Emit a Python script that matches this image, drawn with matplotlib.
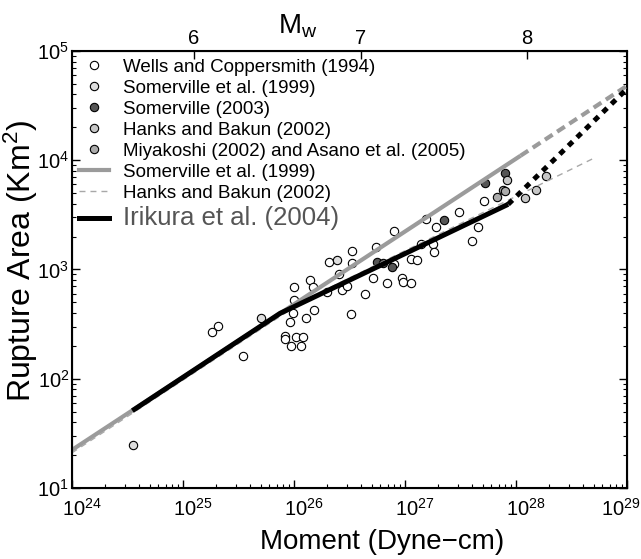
import numpy as np
import matplotlib
matplotlib.use('Agg')
import matplotlib.pyplot as plt
import matplotlib.transforms as mtransforms
from matplotlib.lines import Line2D

plt.rcParams['font.family'] = ['Liberation Sans', 'DejaVu Sans']
plt.rcParams['mathtext.default'] = 'regular'

# log10 moment (dyne-cm) / log10 rupture area (km^2)
wc_logm = [26.90, 26.74, 26.52, 26.32, 26.52, 26.41, 26.14, 26.17, 26.00, 26.71,
           26.84, 26.97, 26.98, 27.05, 27.11, 26.30, 26.43, 26.48, 26.64, 26.00,
           25.99, 26.18, 26.11, 25.96, 26.51, 25.92, 25.92, 26.02, 26.08, 25.97,
           26.06, 25.32, 25.26, 25.54, 27.19, 27.28, 27.49, 27.71, 27.66, 27.60,
           27.14, 27.25, 27.26, 26.90, 27.05]
wc_loga = [3.35, 3.21, 3.17, 3.07, 3.06, 2.96, 2.90, 2.84, 2.84, 2.92,
           2.88, 2.92, 2.89, 3.10, 3.09, 2.79, 2.81, 2.85, 2.78, 2.72,
           2.60, 2.63, 2.56, 2.52, 2.59, 2.39, 2.36, 2.38, 2.38, 2.30,
           2.30, 2.48, 2.43, 2.21, 3.46, 3.39, 3.53, 3.63, 3.39, 3.26,
           3.23, 3.23, 3.16, 3.05, 2.88]

s99_logm = [24.55, 25.70, 26.39]
s99_loga = [1.39, 2.56, 3.09]

s03_logm = [26.75, 26.80, 26.88, 27.35, 27.72, 27.90]
s03_loga = [3.07, 3.06, 3.02, 3.45, 3.79, 3.88]

hb_logm = [28.27, 28.18, 28.08, 27.92]
hb_loga = [3.86, 3.73, 3.65, 3.82]

ma_logm = [27.88, 27.90, 27.83]
ma_loga = [3.73, 3.72, 3.66]

# scaling relations, knots
som_m = [1e24, 1.1e28]
som_a = [22.3, 1.1e4]
som_ext_m = [1.1e28, 1e29]
som_ext_a = [1.1e4, 4.8e4]

hbl_m = [1e24, 1.3e26, 4.9e28]
hbl_a = [21, 537, 1.03e4]

iri_m = [3.5e24, 7.5e25, 8.5e27]
iri_a = [51, 397, 3950]
iri_ext_m = [8.5e27, 1e29]
iri_ext_a = [3950, 4.5e4]

x_ticks = [1e24, 1e25, 1e26, 1e27, 1e28, 1e29]
mw_ticks = [6, 7, 8]

fig = plt.figure(figsize=(6.41, 5.59), dpi=100)
ax = fig.add_axes([0.1123, 0.127, 0.8658, 0.7818])

gray = '#9b9b9b'
ax.plot(som_m, som_a, color=gray, lw=3.0, solid_capstyle='butt', zorder=3)
ax.plot(som_ext_m, som_ext_a, color=gray, lw=3.0, ls=(0, (2.2, 1.3)), zorder=3)
ax.plot(hbl_m, hbl_a, color='#a8a8a8', lw=1.0, ls=(0, (4.3, 3.6)), zorder=3)
ax.plot(iri_m, iri_a, color='black', lw=3.6, solid_capstyle='butt', zorder=4)
ax.plot(iri_ext_m, iri_ext_a, color='black', lw=3.6, ls=(0, (1.2, 1.2)), zorder=4)

def pts(lm, la, fc):
    ax.plot(10.0 ** np.array(lm), 10.0 ** np.array(la), 'o', ms=6, mfc=fc,
            mec='black', mew=0.8, ls='none', zorder=2)

pts(wc_logm, wc_loga, 'white')
pts(s99_logm, s99_loga, '#dedede')
pts(s03_logm, s03_loga, '#555555')
pts(hb_logm, hb_loga, '#c6c6c6')
pts(ma_logm, ma_loga, '#ababab')

ax.set_xscale('log')
ax.set_yscale('log')
ax.set_xlim(1e24, 1e29)
ax.set_ylim(1e1, 1e5)
ax.set_xticks(x_ticks)
ax.tick_params(which='both', direction='in', top=False, right=True, labelsize=14.5)
ax.tick_params(which='major', length=6, width=1)
ax.tick_params(which='minor', length=3, width=0.8)
ax.tick_params(axis='x', pad=7)
ax.tick_params(axis='y', pad=2)
for s in ax.spines.values():
    s.set_linewidth(1.5)
ax.set_xlabel('Moment (Dyne\u2212cm)', fontsize=20)
ax.xaxis.set_label_coords(0.559, -0.094)
ax.set_ylabel('Rupture Area (Km$^2$)', fontsize=23)
ax.yaxis.set_label_coords(-0.058, 0.52)

ax2 = ax.twiny()
ax2.set_xlim((24 - 16.1) / 1.5, (29 - 16.1) / 1.5)
ax2.set_xticks(mw_ticks)
ax2.set_xticklabels([str(t) for t in mw_ticks])
ax2.tick_params(direction='in', length=6, width=1, labelsize=14.5, pad=2)
ax2.set_xlabel('M$_w$', fontsize=20)
ax2.xaxis.set_label_coords(0.407, 1.04)

mk = dict(marker='o', ls='none', ms=6, mec='black', mew=0.8)
handles = [
    Line2D([], [], mfc='white', **mk),
    Line2D([], [], mfc='#dedede', **mk),
    Line2D([], [], mfc='#555555', **mk),
    Line2D([], [], mfc='#c6c6c6', **mk),
    Line2D([], [], mfc='#ababab', **mk),
    Line2D([], [], color=gray, lw=3.0),
    Line2D([], [], color='#a8a8a8', lw=1.0, ls=(0, (4.3, 3.6))),
    Line2D([], [], color='black', lw=3.6),
]
labels = ['Wells and Coppersmith (1994)', 'Somerville et al. (1999)',
          'Somerville (2003)', 'Hanks and Bakun (2002)',
          'Miyakoshi (2002) and Asano et al. (2005)',
          'Somerville et al. (1999)', 'Hanks and Bakun (2002)',
          'Irikura et al. (2004)']
leg = ax.legend(handles, labels, loc='upper left', frameon=False, fontsize=13.5,
                handlelength=1.6, handletextpad=0.7, labelspacing=0.21,
                borderaxespad=0.2, borderpad=0.2)
leg.get_texts()[-1].set_fontsize(18.5)
leg.get_texts()[-1].set_color('#555555')

# MATLAB-style: base "10" centred on the tick, last label pulled inside
for i, lab in enumerate(ax.get_xticklabels()):
    dx = 7.0 if i < len(x_ticks) - 1 else -4.5
    lab.set_transform(lab.get_transform() +
                      mtransforms.ScaledTranslation(dx / 72, 0, fig.dpi_scale_trans))

fig.savefig('out.png', dpi=100)
